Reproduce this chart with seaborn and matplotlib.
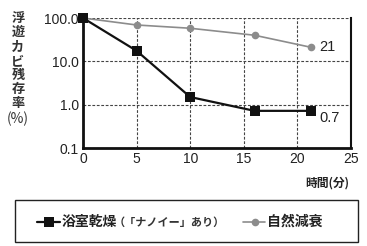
import matplotlib
matplotlib.use("Agg")
import matplotlib.pyplot as plt
import seaborn as sns
import pandas as pd
from matplotlib.lines import Line2D
from matplotlib.patches import Rectangle

# ---- data ----
time_bath = [0, 5, 10, 16, 21.3]
vals_bath = [100, 17.5, 1.5, 0.72, 0.72]
time_nat = [0, 5, 10, 16, 21.3]
vals_nat = [100, 69, 58, 40, 21]
series_names = ["浴室乾燥", "自然減衰"]
legend_sub = "（「ナノイー」あり）"
end_labels = ["0.7", "21"]
y_ticks = [0.1, 1, 10, 100]
y_ticklabels = ["0.1", "1.0", "10.0", "100.0"]
x_ticks = [0, 5, 10, 15, 20, 25]
ylabel_text = "浮遊カビ残存率"
ylabel_unit = "(%)"
xlabel_text = "時間(分)"

df = pd.concat([
    pd.DataFrame({"t": time_bath, "v": vals_bath, "s": series_names[0]}),
    pd.DataFrame({"t": time_nat, "v": vals_nat, "s": series_names[1]}),
])

sns.set_theme(style="white")
plt.rcParams["font.family"] = ["Liberation Sans", "Noto Sans CJK JP"]

colors = {series_names[0]: "#111111", series_names[1]: "#8c8c8c"}
W, H = 367, 246
fig = plt.figure(figsize=(W / 100, H / 100), dpi=100)
ax = fig.add_axes([83 / W, 1 - 148 / H, (351 - 83) / W, (148 - 18) / H])

ax.set_yscale("log")
sub = df[df.s == series_names[1]]
sns.lineplot(data=sub, x="t", y="v", ax=ax, color=colors[series_names[1]],
             marker="o", markersize=5.5, linewidth=1.2, markeredgewidth=0,
             clip_on=False, zorder=3)
sub = df[df.s == series_names[0]]
sns.lineplot(data=sub, x="t", y="v", ax=ax, color=colors[series_names[0]],
             marker="s", markersize=6.5, linewidth=1.6, markeredgewidth=0,
             clip_on=False, zorder=4)

ax.set_xlim(0, 25)
ax.set_ylim(0.1, 100)
ax.set_xticks(x_ticks)
ax.set_xticklabels([str(x) for x in x_ticks], fontsize=10, color="#222222")
ax.set_yticks(y_ticks)
ax.set_yticklabels(y_ticklabels, fontsize=10, color="#222222")
ax.minorticks_off()
ax.tick_params(axis="both", length=0, pad=3)
ax.set_xlabel("")
ax.set_ylabel("")

ax.grid(True, linestyle=(0, (2.5, 1.5)), color="#444444", linewidth=0.8)
for s in ["left", "bottom"]:
    ax.spines[s].set_visible(True)
    ax.spines[s].set_color("#111111")
    ax.spines[s].set_linewidth(2.0)
ax.spines["right"].set_color("#111111")
ax.spines["right"].set_linewidth(1.5)
ax.spines["top"].set_visible(False)

ax.annotate(end_labels[0], xy=(time_bath[-1], vals_bath[-1]), xytext=(6, -5),
            textcoords="offset points", fontsize=10.5, color="#222222",
            va="center", ha="left")
ax.annotate(end_labels[1], xy=(time_nat[-1], vals_nat[-1]), xytext=(6, 0),
            textcoords="offset points", fontsize=10.5, color="#222222",
            va="center", ha="left")

fig.text(18 / W, 1 - 11 / H, "\n".join(list(ylabel_text)), fontsize=9.5,
         color="#333333", ha="center", va="top", linespacing=1.02,
         fontweight="bold", family=["Noto Sans CJK JP"])
fig.text(18 / W, 1 - 119 / H, ylabel_unit, fontsize=10, color="#333333",
         ha="center", va="center", family=["Noto Sans CJK JP"])
fig.text(349 / W, 1 - 183 / H, xlabel_text, fontsize=8.5, color="#222222",
         ha="right", va="center", fontweight="bold", family=["Noto Sans CJK JP"])

fig.patches.append(Rectangle((15 / W, 1 - 242 / H), (358 - 15) / W, 42 / H,
                             transform=fig.transFigure, fill=False,
                             edgecolor="#222222", linewidth=1.0))
ly = 1 - 222 / H
fig.lines.append(Line2D([37 / W, 60 / W], [ly, ly], transform=fig.transFigure,
                        color=colors[series_names[0]], linewidth=1.6))
fig.lines.append(Line2D([49 / W], [ly], transform=fig.transFigure,
                        color=colors[series_names[0]], marker="s",
                        markersize=6.5, markeredgewidth=0, linestyle="None"))
fig.text(62 / W, ly, series_names[0], fontsize=10, fontweight="bold",
         color="#222222", ha="left", va="center", family=["Noto Sans CJK JP"])
fig.text(114 / W, ly, legend_sub, fontsize=8, fontweight="bold",
         color="#333333", ha="left", va="center", family=["Noto Sans CJK JP"])
fig.lines.append(Line2D([243 / W, 265 / W], [ly, ly], transform=fig.transFigure,
                        color=colors[series_names[1]], linewidth=1.2))
fig.lines.append(Line2D([255 / W], [ly], transform=fig.transFigure,
                        color=colors[series_names[1]], marker="o",
                        markersize=5.5, markeredgewidth=0, linestyle="None"))
fig.text(267 / W, ly, series_names[1], fontsize=10, fontweight="bold",
         color="#222222", ha="left", va="center", family=["Noto Sans CJK JP"])

fig.savefig("out.png", dpi=100)
